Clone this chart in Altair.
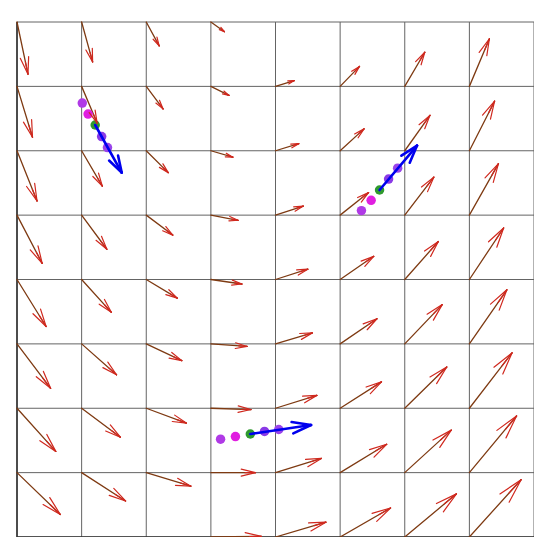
import altair as alt
import pandas as pd
import numpy as np

# ---- vector field (rows from y=8 down to y=0, columns x=0..7) ----
GRID = list(range(9))
XS = list(range(8))
YS = [8, 7, 6, 5, 4, 3, 2, 1, 0]
U = [
    [0.17, 0.17, 0.20, 0.21, None, None, None, None],
    [0.24, 0.24, 0.26, 0.28, 0.29, 0.30, 0.31, 0.31],
    [0.31, 0.32, 0.34, 0.34, 0.36, 0.37, 0.39, 0.39],
    [0.39, 0.39, 0.41, 0.42, 0.43, 0.44, 0.45, 0.45],
    [0.45, 0.46, 0.48, 0.48, 0.50, 0.52, 0.52, 0.53],
    [0.52, 0.54, 0.55, 0.56, 0.57, 0.57, 0.58, 0.58],
    [0.60, 0.60, 0.62, 0.62, 0.64, 0.64, 0.65, 0.66],
    [0.67, 0.68, 0.69, 0.69, 0.71, 0.72, 0.72, 0.73],
    [None, None, None, 0.78, 0.78, 0.78, 0.80, 0.80],
]
V = [
    [-0.81, -0.62, -0.37, -0.15, None, None, None, None],
    [-0.79, -0.57, -0.35, -0.14, 0.09, 0.31, 0.53, 0.74],
    [-0.78, -0.55, -0.34, -0.10, 0.11, 0.34, 0.55, 0.77],
    [-0.75, -0.53, -0.31, -0.08, 0.14, 0.35, 0.59, 0.80],
    [-0.73, -0.51, -0.29, -0.07, 0.16, 0.36, 0.59, 0.80],
    [-0.69, -0.48, -0.26, -0.04, 0.17, 0.39, 0.61, 0.84],
    [-0.67, -0.45, -0.23, -0.02, 0.20, 0.41, 0.64, 0.86],
    [-0.65, -0.44, -0.21, 0.00, 0.22, 0.44, 0.66, 0.88],
    [None, None, None, 0.01, 0.23, 0.45, 0.67, 0.89],
]

# ---- three trajectories: five dots each, blue arrow from the green (middle) dot ----
TRAJ_ID = [1, 2, 3]
TRAJ_X = [
    [1.01, 1.10, 1.21, 1.31, 1.40],
    [5.33, 5.48, 5.61, 5.75, 5.89],
    [3.15, 3.38, 3.61, 3.83, 4.05],
]
TRAJ_Y = [
    [6.74, 6.57, 6.40, 6.22, 6.05],
    [5.07, 5.23, 5.39, 5.56, 5.73],
    [1.52, 1.56, 1.60, 1.64, 1.67],
]
DOT_COLORS = ["#b03ae6", "#e01ee0", "#2e9a2e", "#8a3ae6", "#9a44ea"]
BLUE_TIP_X = [1.62, 6.19, 4.55]
BLUE_TIP_Y = [5.66, 6.08, 1.74]

# ---- build tables ----
rows = []
for r, yv in enumerate(YS):
    for c, xv in enumerate(XS):
        if U[r][c] is None:
            continue
        rows.append({"x": xv, "y": yv, "x2": xv + U[r][c], "y2": yv + V[r][c]})
field = pd.DataFrame(rows)


def head_lines(df, frac, ang_deg, mid=True):
    out = []
    a = np.radians(ang_deg)
    for _, r in df.iterrows():
        dx, dy = r["x2"] - r["x"], r["y2"] - r["y"]
        L = np.hypot(dx, dy)
        if L == 0:
            continue
        bx, by = -dx / L, -dy / L
        h = frac * L
        for s in (a, -a):
            rx = bx * np.cos(s) - by * np.sin(s)
            ry = bx * np.sin(s) + by * np.cos(s)
            out.append({"x": r["x2"], "y": r["y2"], "x2": r["x2"] + h * rx, "y2": r["y2"] + h * ry})
        if mid:
            out.append({"x": r["x2"], "y": r["y2"], "x2": r["x2"] + h * 0.7 * bx, "y2": r["y2"] + h * 0.7 * by})
    return pd.DataFrame(out)


red_heads = head_lines(field, 0.33, 14)

dots = []
blue = []
for t, tid in enumerate(TRAJ_ID):
    for k in range(5):
        dots.append({"traj": tid, "k": k, "x": TRAJ_X[t][k], "y": TRAJ_Y[t][k], "c": DOT_COLORS[k]})
    blue.append({"x": TRAJ_X[t][2], "y": TRAJ_Y[t][2], "x2": BLUE_TIP_X[t], "y2": BLUE_TIP_Y[t]})
dots = pd.DataFrame(dots)
blue = pd.DataFrame(blue)
blue_heads = head_lines(blue, 0.32, 17, mid=False)

xs = alt.Scale(domain=[0, 8], nice=False, zero=False)
ys = alt.Scale(domain=[0, 8], nice=False, zero=False)

grid_df = pd.DataFrame({"g": GRID})
vgrid = alt.Chart(grid_df).mark_rule(color="#646464", strokeWidth=1).encode(
    x=alt.X("g:Q", scale=xs, axis=None)
)
hgrid = alt.Chart(grid_df).mark_rule(color="#646464", strokeWidth=1).encode(
    y=alt.Y("g:Q", scale=ys, axis=None)
)
edge_df = pd.DataFrame({"g": [0]})
left_edge = alt.Chart(edge_df).mark_rule(color="#333333", strokeWidth=1.6).encode(
    x=alt.X("g:Q", scale=xs, axis=None)
)
bottom_edge = alt.Chart(edge_df).mark_rule(color="#333333", strokeWidth=1.6).encode(
    y=alt.Y("g:Q", scale=ys, axis=None)
)


def seg_layer(df, color, width):
    return alt.Chart(df).mark_rule(color=color, strokeWidth=width, strokeCap="round").encode(
        x=alt.X("x:Q", scale=xs, axis=None),
        y=alt.Y("y:Q", scale=ys, axis=None),
        x2="x2:Q",
        y2="y2:Q",
    )


shafts = seg_layer(field, "#7e3a12", 1.3)
heads = seg_layer(red_heads, "#d0281e", 1.2)

dot_layer = alt.Chart(dots).mark_circle(size=90, opacity=1).encode(
    x=alt.X("x:Q", scale=xs, axis=None),
    y=alt.Y("y:Q", scale=ys, axis=None),
    color=alt.Color("c:N", scale=None),
)

blue_shaft = seg_layer(blue, "#0000ee", 2.6)
blue_head = seg_layer(blue_heads, "#0000ee", 2.6)

chart = alt.layer(
    vgrid, hgrid, left_edge, bottom_edge, shafts, dot_layer, heads, blue_shaft, blue_head
).properties(
    width=517,
    height=515,
    padding={"left": 9, "top": 14, "right": 0, "bottom": 0},
    autosize=alt.AutoSizeParams(type="none"),
    background="white",
).configure_view(stroke=None)

chart.save("out.html", embed_options={"renderer": "svg", "actions": False})
